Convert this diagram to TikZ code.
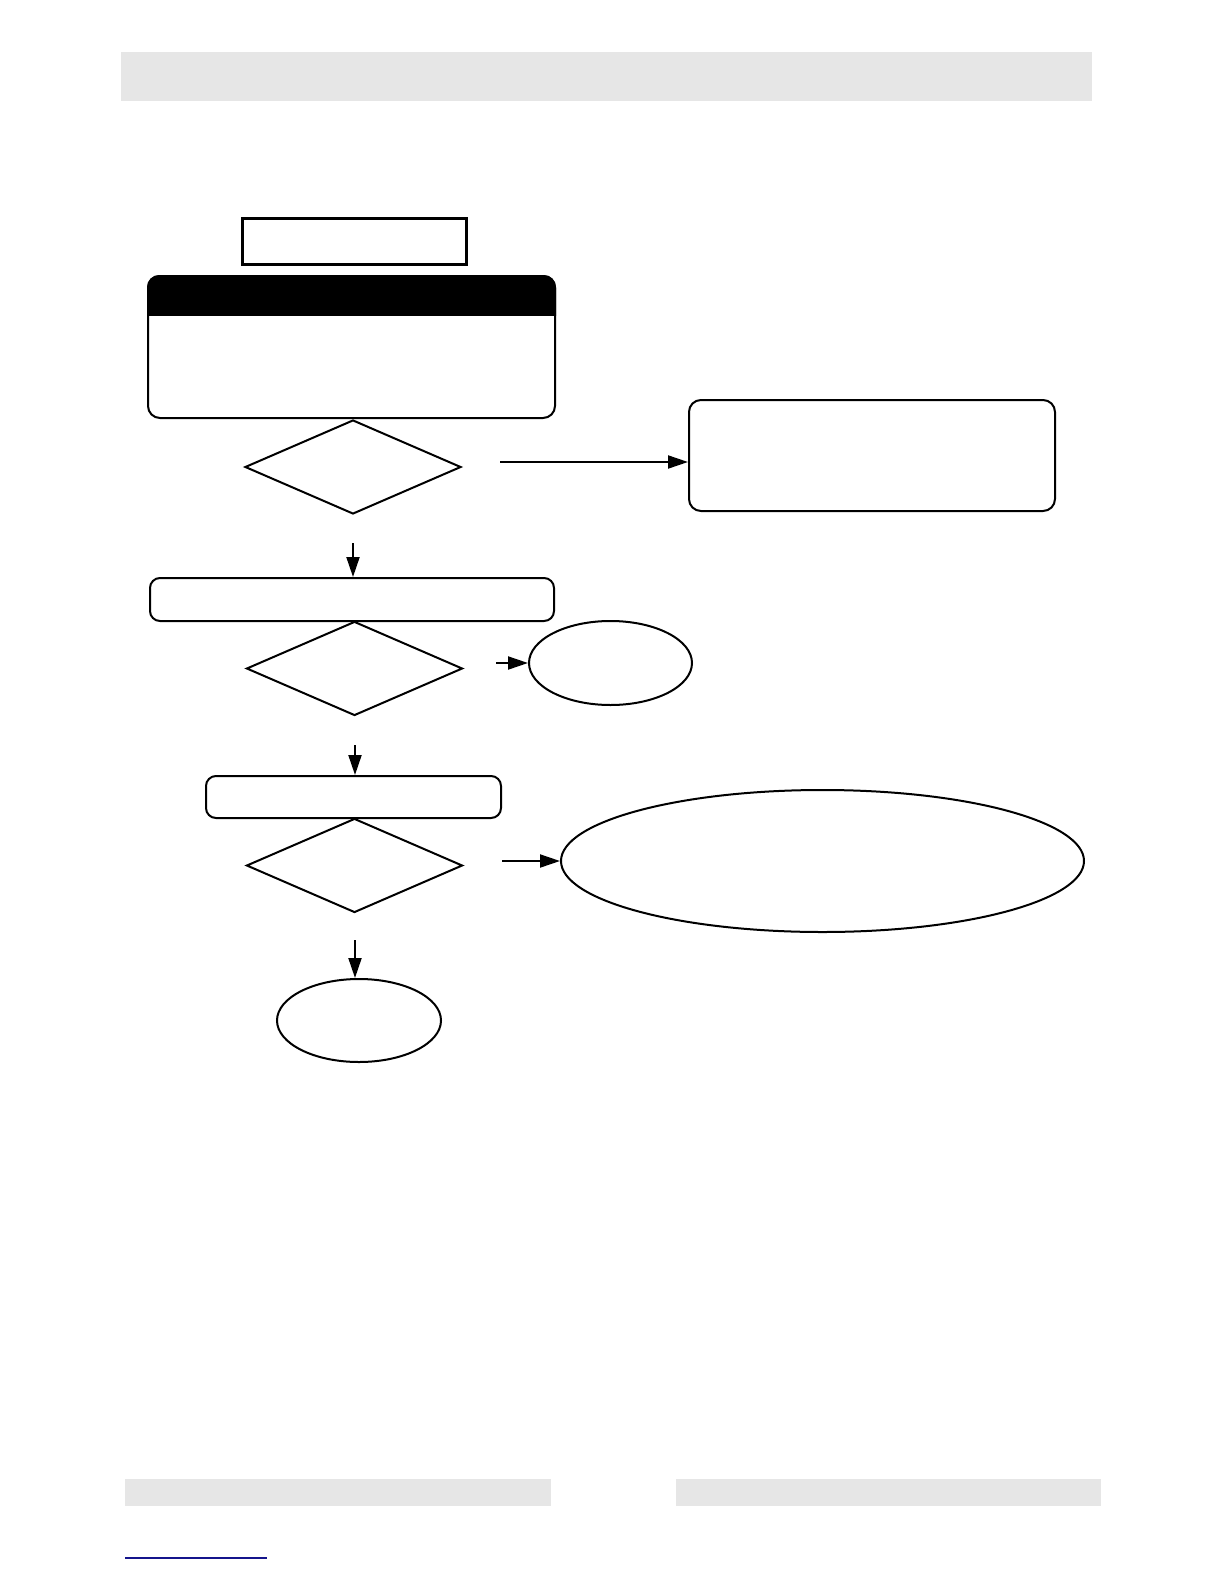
\documentclass[tikz,border=0pt]{standalone}
\usetikzlibrary{shapes.geometric,arrows.meta}
\definecolor{bargray}{RGB}{230,230,230}
\definecolor{linkblue}{RGB}{20,20,140}
\begin{document}
\begin{tikzpicture}[x=0.5pt,y=-0.5pt,line width=1pt,
		rbox/.style={draw,rectangle,rounded corners=6pt,inner sep=0pt},
		dec/.style={draw,diamond,inner sep=0pt,minimum width=108pt,minimum height=47pt},
		oval/.style={draw,ellipse,inner sep=0pt},
		arr/.style={-{Triangle[length=10pt,width=6.5pt]}}]
		\useasboundingbox (0,0) rectangle (1224,1584);

		\node[fill=bargray,minimum width=485.5pt,minimum height=24.5pt,inner sep=0pt] (topbar) at (606.5,76.5) {};
		\node[fill=bargray,minimum width=213pt,minimum height=13.5pt,inner sep=0pt] (footl) at (338,1492.5) {};
		\node[fill=bargray,minimum width=212.5pt,minimum height=13.5pt,inner sep=0pt] (footr) at (888.5,1492.5) {};
		\coordinate (lnka) at (125,1558); \coordinate (lnkb) at (267,1558);
		\draw[linkblue,line width=0.8pt] (lnka) -- (lnkb);

		\node[draw,line width=1.5pt,minimum width=112pt,minimum height=23pt,inner sep=0pt] (title) at (354,241) {};

		\node[rbox,minimum width=203.5pt,minimum height=71pt] (warn) at (351.5,347) {};
		\coordinate (hdr) at (351.5,315);
		\begin{scope}
			\clip (warn.north west) rectangle (warn.east |- hdr);
			\fill[rounded corners=6pt] (warn.north west) rectangle (warn.south east);
		\end{scope}

		\node[dec] (d1) at (353,467) {};
		\node[rbox,minimum width=183pt,minimum height=55.5pt] (r1) at (872,455.5) {};
		\coordinate (c1) at (500,462);
		\draw[arr] (c1) -- (c1 -| r1.west);

		\coordinate (a1) at (353,543);
		\node[rbox,rounded corners=5pt,minimum width=202pt,minimum height=21.5pt] (b2) at (352,599.5) {};
		\draw[arr] (a1) -- (a1 |- b2.north);

		\node[dec] (d2) at (354.5,668.5) {};
		\node[oval,minimum width=81.5pt,minimum height=42pt] (e1) at (610.5,663) {};
		\coordinate (c2) at (496,663);
		\draw[arr] (c2) -- (e1.west);

		\coordinate (a2) at (355,745);
		\node[rbox,rounded corners=5pt,minimum width=147.5pt,minimum height=21pt] (b3) at (353.5,797) {};
		\draw[arr] (a2) -- (a2 |- b3.north);

		\node[dec] (d3) at (354.5,865.5) {};
		\node[oval,minimum width=261.5pt,minimum height=71pt] (e2) at (822.5,861) {};
		\coordinate (c3) at (502,861);
		\draw[arr] (c3) -- (e2.west);

		\coordinate (a3) at (355,940);
		\node[oval,minimum width=82pt,minimum height=41.5pt] (e3) at (359,1020.5) {};
		\draw[arr] (a3) -- (a3 |- e3.north);
	\end{tikzpicture}
\end{document}
